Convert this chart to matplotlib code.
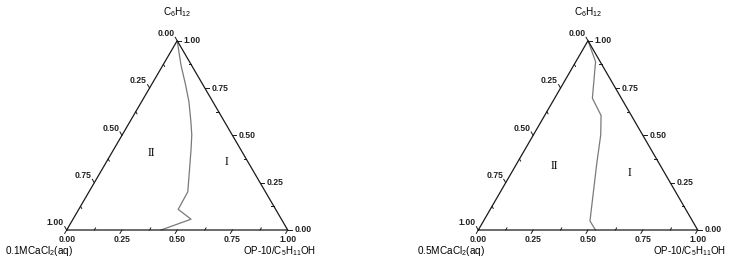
import numpy as np
import matplotlib.pyplot as plt

plt.rcParams['font.family'] = ['Liberation Sans', 'DejaVu Sans']
plt.rcParams['mathtext.fontset'] = 'custom'
plt.rcParams['mathtext.rm'] = 'Liberation Sans'
plt.rcParams['mathtext.it'] = 'Liberation Sans:italic'

# phase boundary, as OP-10/C5H11OH fraction and C6H12 fraction
op_01 = [0.0, 0.081, 0.155, 0.214, 0.276, 0.315, 0.351, 0.447, 0.450, 0.534, 0.427]
c6_01 = [1.0, 0.872, 0.766, 0.678, 0.572, 0.502, 0.423, 0.202, 0.109, 0.057, 0.0]
op_05 = [0.0, 0.090, 0.172, 0.257, 0.307, 0.364, 0.485, 0.534]
c6_05 = [1.0, 0.889, 0.696, 0.605, 0.502, 0.352, 0.048, 0.0]

aq_labels = ['0.1MCaCl$_2$(aq)', '0.5MCaCl$_2$(aq)']
top_label = r'C$_6$H$_{12}$'
right_label = r'OP-10/C$_5$H$_{11}$OH'
major = [0.0, 0.25, 0.5, 0.75, 1.0]
minor = [0.125, 0.375, 0.625, 0.875]
region_names = ['II', 'I']

S3 = np.sqrt(3) / 2
W, H = 732, 264


def cart(b, c):
    b = np.asarray(b, float)
    c = np.asarray(c, float)
    return b + c / 2, c * S3


def tern_axes(fig, x0, sx, y0=34, sy=218.6):
    ax = fig.add_axes([(x0 - 0.3 * sx) / W, (y0 - 0.15 * sy) / H,
                       1.45 * sx / W, 1.15 * sy / H])
    ax.set_xlim(-0.3, 1.15)
    ax.set_ylim(-0.15, 1.0)
    ax.axis('off')
    return ax


def draw_frame(ax):
    ec = '#1a1a1a'
    ax.plot([0, 1, 0.5, 0], [0, 0, S3, 0], color=ec, lw=0.9, zorder=3)
    L, l = 0.018, 0.011
    tk = dict(fontsize=6.2, fontweight='bold', color='#222222')
    for v, is_major in [(t, True) for t in major] + [(t, False) for t in minor]:
        ln = L if is_major else -l
        # bottom axis (OP-10 fraction), ticks along the left edge
        px, py = cart(v, 0)
        d = np.array([-0.5, -S3]) * ln
        ax.plot([px, px + d[0]], [py, py + d[1]], color=ec, lw=0.7)
        if is_major:
            ax.text(px, py - 0.022, f'{v:.2f}', ha='center', va='top', **tk)
        # right axis (C6H12 fraction), horizontal ticks
        px, py = cart(1 - v, v)
        d = np.array([1.0, 0.0]) * ln
        ax.plot([px, px + d[0]], [py, py + d[1]], color=ec, lw=0.7)
        if is_major:
            ax.text(px + 0.03, py, f'{v:.2f}', ha='left', va='center', **tk)
        # left axis (aqueous fraction), ticks along the right edge
        px, py = cart(0, 1 - v)
        d = np.array([-0.5, S3]) * ln
        ax.plot([px, px + d[0]], [py, py + d[1]], color=ec, lw=0.7)
        if is_major:
            ax.text(px - 0.012, py + 0.012, f'{v:.2f}', ha='right', va='bottom', **tk)


fig = plt.figure(figsize=(W / 100, H / 100), dpi=100)

panels = [
    (66.7, 221.0, op_01, c6_01, aq_labels[0], [(0.181, 0.408), (0.541, 0.361)]),
    (478.3, 219.4, op_05, c6_05, aq_labels[1], [(0.176, 0.340), (0.536, 0.303)]),
]

for x0, sx, op, c6, aq, reg_pos in panels:
    ax = tern_axes(fig, x0, sx)
    draw_frame(ax)
    x, y = cart(op, c6)
    ax.plot(x, y, color='#7a7a7a', lw=0.9, zorder=2)
    for name, (b, c) in zip(region_names, reg_pos):
        rx, ry = cart(b, c)
        ax.text(rx, ry, name, ha='center', va='center', fontsize=8.5,
                family='Liberation Serif')
    ax.text(0.5, S3 + 0.13, top_label, ha='center', va='center', fontsize=7.2)
    ax.text(0.03, -0.095, aq, ha='right', va='center', fontsize=7.2)
    ax.text(1.0 + 28 / sx, -0.098, right_label, ha='right', va='center', fontsize=7.0)

fig.savefig('out.png', dpi=100)
